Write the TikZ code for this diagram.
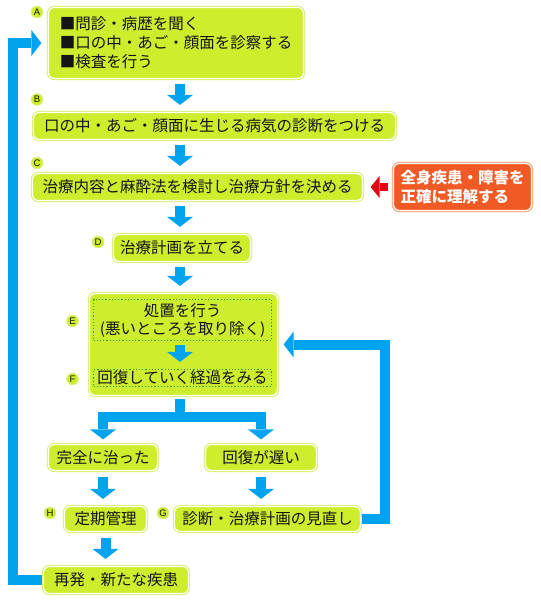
\documentclass[tikz,border=0pt]{standalone}
\usepackage{fontspec}
\setmainfont{Liberation Sans}
\newfontfamily\jp{Noto Sans CJK JP}
\usetikzlibrary{arrows.meta}
\definecolor{leaf}{RGB}{205,237,45}
\definecolor{edge}{RGB}{214,240,118}
\definecolor{ink}{RGB}{20,20,20}
\definecolor{flowblue}{RGB}{0,163,238}
\definecolor{warnred}{RGB}{230,0,18}
\definecolor{alert}{RGB}{241,90,36}
\definecolor{alertedge}{RGB}{246,165,135}
\definecolor{dotgreen}{RGB}{40,160,60}

\begin{document}
\begin{tikzpicture}[x=1pt,y=-1pt,
box/.style={rectangle, rounded corners=6pt, fill=leaf, draw=white, line width=1.2pt,
  preaction={draw=edge, line width=3.4pt}, inner sep=0pt, text=ink,
  font=\jp\fontsize{15.5}{19}\selectfont, align=center},
alertbox/.style={box, fill=alert, preaction={draw=alertedge, line width=3.4pt}, text=white,
  font=\jp\bfseries\fontsize{15.5}{19}\selectfont},
dotbox/.style={rectangle, fill=leaf, draw=dotgreen, dotted, line width=1.2pt,
  inner sep=0pt, text=ink, font=\jp\fontsize{15.5}{18}\selectfont, align=center},
tag/.style={circle, fill=leaf, draw=edge, line width=1pt, inner sep=0pt, minimum size=11.5pt,
  text=ink, font=\fontsize{9.5}{9.5}\selectfont},
flow/.style={draw=flowblue, line width=10pt, line join=miter,
  -{Triangle[width=26pt,length=10pt,line width=0pt]}, shorten <=4.5pt, shorten >=7pt},
warn/.style={draw=warnred, line width=8pt,
  -{Triangle[width=22pt,length=9pt,line width=0pt]}, shorten <=5pt, shorten >=7.5pt},
]
\useasboundingbox (0,0) rectangle (540,604);

%Nodes
\node[box, minimum width=255pt, minimum height=71pt, align=left] (exam) at (176,43)
  {■問診・病歴を聞く\\■口の中・あご・顔面を診察する\\■検査を行う};
\node[box, minimum width=362pt, minimum height=27pt] (diag) at (214.5,126)
  {口の中・あご・顔面に生じる病気の診断をつける};
\node[box, minimum width=330pt, minimum height=27pt] (policy) at (197.5,187)
  {治療内容と麻酔法を検討し治療方針を決める};
\node[alertbox, minimum width=138pt, minimum height=47pt, align=left] (systemic) at (462.5,187)
  {全身疾患・障害を\\正確に理解する};
\node[box, minimum width=137pt, minimum height=27pt] (plan) at (182,248) {治療計画を立てる};
\node[box, minimum width=188pt, minimum height=102pt] (treat) at (183.5,344.5) {};
\node[dotbox, minimum width=178pt, minimum height=41pt] (proc) at (182.5,320)
  {処置を行う\\(悪いところを取り除く)};
\node[dotbox, minimum width=178pt, minimum height=17pt] (recov) at (182.5,378)
  {回復していく経過をみる};
\node[box, minimum width=109pt, minimum height=26pt] (cured) at (103,457.5) {完全に治った};
\node[box, minimum width=111pt, minimum height=26pt] (slow) at (261,457.5) {回復が遅い};
\node[box, minimum width=82pt, minimum height=25pt] (check) at (105.5,519) {定期管理};
\node[box, minimum width=186pt, minimum height=25pt] (review) at (267.5,519) {診断・治療計画の見直し};
\node[box, minimum width=145pt, minimum height=27pt] (relapse) at (116,580) {再発・新たな疾患};

%Tags
\node[tag] (tagA) at (37,12) {A};
\node[tag] (tagB) at (37,99.5) {B};
\node[tag] (tagC) at (37,163) {C};
\node[tag] (tagD) at (98,242) {D};
\node[tag] (tagE) at (72.5,321) {E};
\node[tag] (tagF) at (72.5,379) {F};
\node[tag] (tagG) at (163,513) {G};
\node[tag] (tagH) at (50,513) {H};

\coordinate (axis) at (180,0);
\coordinate (fork) at (180,417);
\coordinate (backL) at (13,0);
\coordinate (backR) at (385,0);

%Lines
\draw[flow] (exam.south -| axis) -- (diag.north -| axis);
\draw[flow] (diag.south -| axis) -- (policy.north -| axis);
\draw[flow] (policy.south -| axis) -- (plan.north -| axis);
\draw[flow] (plan.south -| axis) -- (treat.north -| axis);
\draw[flow, shorten <=4pt] (proc.south -| axis) -- (recov.north -| axis);
\draw[flow, shorten <=3pt, shorten >=4.5pt] (treat.south -| axis) -- (fork) -| (cured.north);
\draw[flow, shorten <=3pt, shorten >=4.5pt] (treat.south -| axis) -- (fork) -| (slow.north);
\draw[flow, shorten <=6pt] (cured.south) -- (cured.south |- check.north);
\draw[flow, shorten <=6pt] (slow.south) -- (slow.south |- review.north);
\draw[flow, shorten <=5.5pt] (check.south) -- (check.south |- relapse.north);
\draw[flow, shorten <=1pt, shorten >=6.5pt] (relapse.west) -| (backL |- exam.west) -- (exam.west);
\draw[flow, shorten <=1pt, shorten >=5.5pt] (review.east) -| (backR |- treat.east) -- (treat.east);
\draw[warn] (systemic.west) -- (policy.east);

\end{tikzpicture}
\end{document}
